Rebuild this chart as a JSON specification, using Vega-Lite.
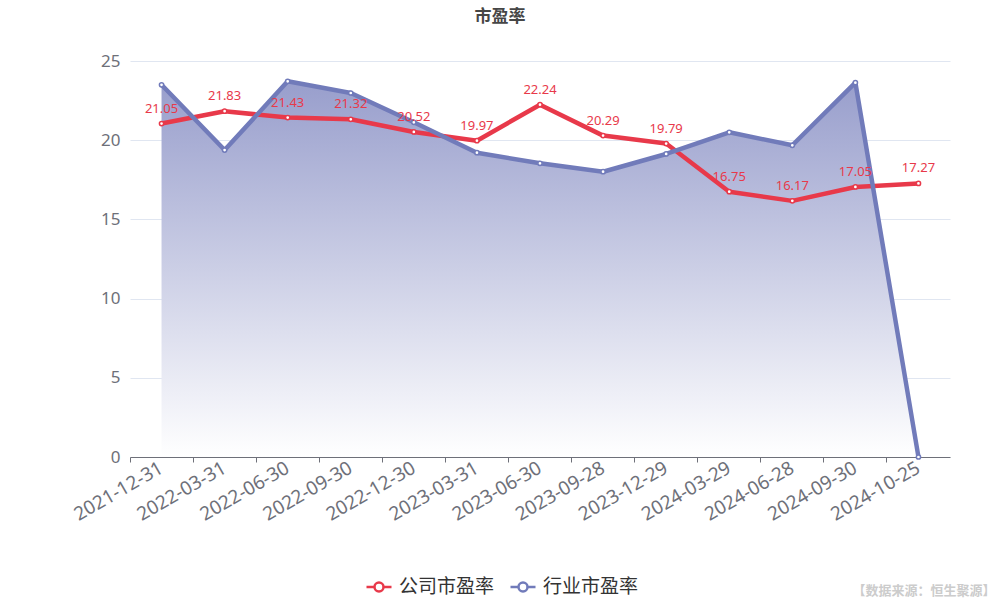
{
  "$schema": "https://vega.github.io/schema/vega-lite/v6.json",
  "width": 820,
  "height": 396,
  "autosize": {"type": "none"},
  "padding": {"left": 130, "top": 61, "right": 50, "bottom": 143},
  "background": "white",
  "title": {"text": "市盈率", "fontSize": 17, "fontWeight": "bold", "color": "#464646", "font": "Noto Sans CJK SC", "anchor": "middle", "offset": 26, "dx": -40},
  "config": {"view": {"stroke": null}, "font": "Noto Sans CJK SC"},
  "data": {"values": [
    {"date": "2021-12-31", "series": "公司市盈率", "value": 21.05},
    {"date": "2022-03-31", "series": "公司市盈率", "value": 21.83},
    {"date": "2022-06-30", "series": "公司市盈率", "value": 21.43},
    {"date": "2022-09-30", "series": "公司市盈率", "value": 21.32},
    {"date": "2022-12-30", "series": "公司市盈率", "value": 20.52},
    {"date": "2023-03-31", "series": "公司市盈率", "value": 19.97},
    {"date": "2023-06-30", "series": "公司市盈率", "value": 22.24},
    {"date": "2023-09-28", "series": "公司市盈率", "value": 20.29},
    {"date": "2023-12-29", "series": "公司市盈率", "value": 19.79},
    {"date": "2024-03-29", "series": "公司市盈率", "value": 16.75},
    {"date": "2024-06-28", "series": "公司市盈率", "value": 16.17},
    {"date": "2024-09-30", "series": "公司市盈率", "value": 17.05},
    {"date": "2024-10-25", "series": "公司市盈率", "value": 17.27},
    {"date": "2021-12-31", "series": "行业市盈率", "value": 23.50},
    {"date": "2022-03-31", "series": "行业市盈率", "value": 19.38},
    {"date": "2022-06-30", "series": "行业市盈率", "value": 23.72},
    {"date": "2022-09-30", "series": "行业市盈率", "value": 22.98},
    {"date": "2022-12-30", "series": "行业市盈率", "value": 21.13},
    {"date": "2023-03-31", "series": "行业市盈率", "value": 19.21},
    {"date": "2023-06-30", "series": "行业市盈率", "value": 18.54},
    {"date": "2023-09-28", "series": "行业市盈率", "value": 18.01},
    {"date": "2023-12-29", "series": "行业市盈率", "value": 19.13},
    {"date": "2024-03-29", "series": "行业市盈率", "value": 20.50},
    {"date": "2024-06-28", "series": "行业市盈率", "value": 19.68},
    {"date": "2024-09-30", "series": "行业市盈率", "value": 23.63},
    {"date": "2024-10-25", "series": "行业市盈率", "value": 0}
  ]},
  "resolve": {"axis": {"x": "independent"}},
  "layer": [
    {
      "transform": [{"filter": "datum.series === '行业市盈率'"}],
      "mark": {"type": "area", "color": {"gradient": "linear", "x1": 0, "y1": 0, "x2": 0, "y2": 1, "stops": [{"offset": 0, "color": "#989ecc"}, {"offset": 1, "color": "#ffffff"}]}},
      "encoding": {
        "x": {"field": "date", "type": "ordinal", "sort": null, "scale": {"type": "band", "paddingInner": 0, "paddingOuter": 0},
              "axis": {"orient": "bottom", "bandPosition": 0, "labels": false, "title": null, "domainColor": "#6E7079", "tickColor": "#6E7079", "tickSize": 5, "grid": false}},
        "y": {"field": "value", "type": "quantitative", "scale": {"domain": [0, 25], "nice": false},
              "axis": {"title": null, "values": [0, 5, 10, 15, 20, 25], "domain": false, "ticks": false, "labelFontSize": 17, "labelColor": "#6E7079", "labelPadding": 10, "gridColor": "#E0E6F1", "labelFont": "Noto Sans"}}
      }
    },
    {
      "mark": {"type": "line", "strokeWidth": 4.5, "strokeJoin": "round"},
      "encoding": {
        "x": {"field": "date", "type": "ordinal", "sort": null,
              "axis": {"orient": "bottom", "ticks": false, "domain": false, "grid": false, "labelAngle": -30, "labelAlign": "right", "labelBaseline": "middle", "labelPadding": 9, "labelFontSize": 19, "labelColor": "#6E7079", "labelFont": "Noto Sans",
                       "title": "【数据来源：恒生聚源】", "titleAnchor": "end", "titleAlign": "right", "titleBaseline": "middle", "titleX": 865, "titleY": 133, "titleColor": "#cccccc", "titleFontSize": 13, "titleFontWeight": "bold", "titleFont": "Noto Sans CJK SC"}},
        "y": {"field": "value", "type": "quantitative"},
        "color": {"field": "series", "type": "nominal",
                  "scale": {"domain": ["公司市盈率", "行业市盈率"], "range": ["#E8394A", "#717BBA"]},
                  "legend": {"title": null, "orient": "none", "direction": "horizontal", "legendX": 235, "legendY": 512, "labelFontSize": 19, "labelColor": "#333333", "labelFont": "Noto Sans CJK SC",
                             "symbolType": "M-1,0L-0.36,0M0.36,0L1,0M0.36,0A0.36,0.36 0 1,1 -0.36,0A0.36,0.36 0 1,1 0.36,0", "symbolSize": 625, "symbolStrokeWidth": 2.5, "symbolFillColor": "white", "columnPadding": 10, "labelOffset": 6}},
        "order": {"field": "series", "type": "nominal"}
      }
    },
    {
      "mark": {"type": "point", "filled": true, "fill": "white", "size": 18, "strokeWidth": 1.5, "opacity": 1},
      "encoding": {
        "x": {"field": "date", "type": "ordinal", "sort": null, "axis": null},
        "y": {"field": "value", "type": "quantitative"},
        "stroke": {"field": "series", "type": "nominal", "scale": {"domain": ["公司市盈率", "行业市盈率"], "range": ["#E8394A", "#717BBA"]}, "legend": null}
      }
    },
    {
      "transform": [{"filter": "datum.series === '公司市盈率'"}],
      "mark": {"type": "text", "dy": -15, "fontSize": 13, "color": "#E8394A", "font": "Noto Sans"},
      "encoding": {
        "x": {"field": "date", "type": "ordinal", "sort": null, "axis": null},
        "y": {"field": "value", "type": "quantitative"},
        "text": {"field": "value", "type": "quantitative", "format": ".2f"}
      }
    }
  ]
}
